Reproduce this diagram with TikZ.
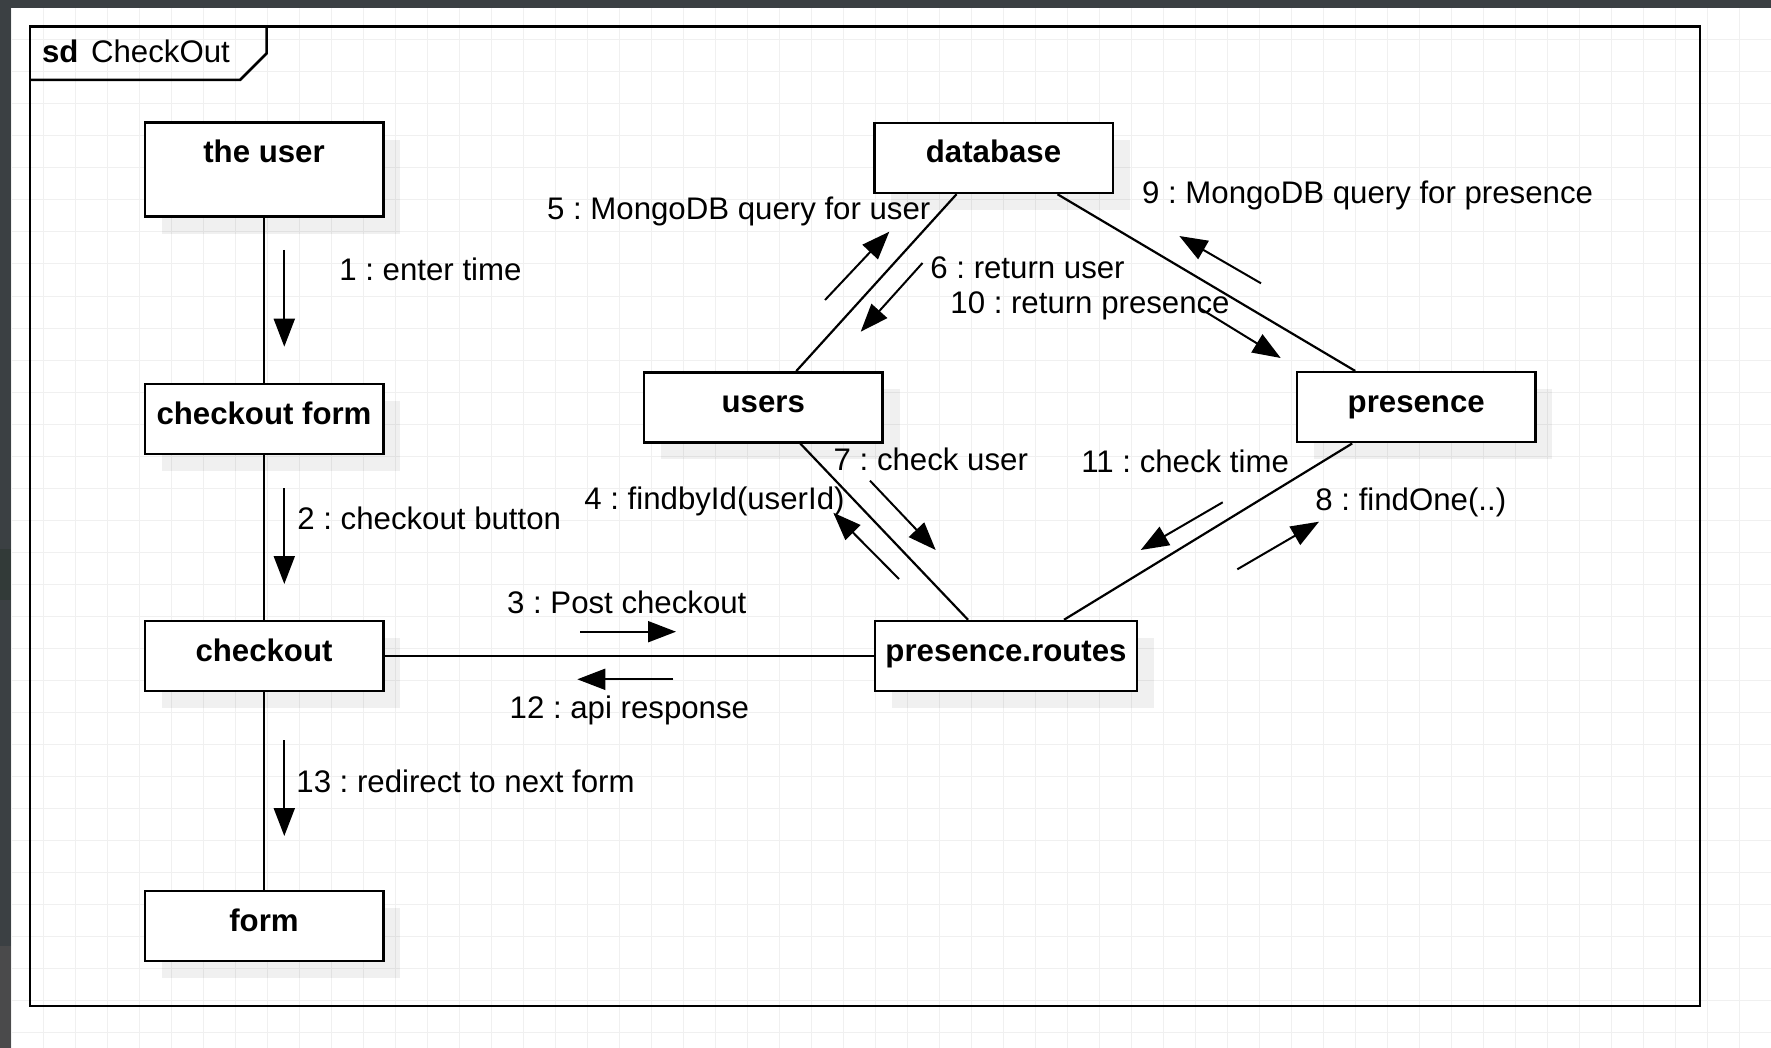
\documentclass[tikz,border=0pt]{standalone}
\usepackage{fontspec}
\setmainfont{Liberation Sans}
\usetikzlibrary{arrows.meta,calc,shadows}
\definecolor{topbar}{RGB}{59,64,67}
\definecolor{barmid}{RGB}{50,58,56}
\definecolor{barlow}{RGB}{74,74,75}
\definecolor{gridc}{RGB}{240,240,240}
\frenchspacing
\begin{document}
\begin{tikzpicture}[x=0.5pt,y=-0.5pt,
  obj/.style={draw=black, line width=1.25pt, fill=white, minimum width=119.25pt,
    inner xsep=0pt, inner ysep=0pt, text height=20pt, text depth=15pt,
    font=\fontsize{15.6}{18}\selectfont\bfseries,
    general shadow={fill=black, fill opacity=0.06, shadow xshift=8.5pt, shadow yshift=-8.5pt}},
  conn/.style={draw=black, line width=1.1pt},
  msg/.style={draw=black, line width=1pt, -{Triangle[length=14pt,width=10.5pt]}},
  lbl/.style={inner sep=0pt, font=\fontsize{15.6}{18}\selectfont},
  gridline/.style={draw=gridc, line width=0.5pt}]

\useasboundingbox (0,0) rectangle (1771,1048);
\fill[white] (0,0) rectangle (1771,1048);
\foreach \i in {0,...,55} \draw[gridline] ({11.3+32*\i},8) -- ({11.3+32*\i},1048);
\foreach \j in {0,...,32} \draw[gridline] (11.3,{8+32*\j}) -- (1771,{8+32*\j});
\fill[topbar] (0,0) rectangle (1771,8);
\fill[topbar] (0,0) rectangle (11.3,1048);
\fill[barmid] (0,549) rectangle (11.3,600);
\fill[barlow] (0,946) rectangle (11.3,1048);

% frame
\draw[line width=1.25pt] (30,26.7) rectangle (1700,1006);
\draw[line width=1.25pt] (30,80) -- (240,80) -- (266.7,53.3) -- (266.7,26.7);
\node[lbl, anchor=base west] (title) at (41.7,62.7) {\textbf{sd}\hspace{6.3pt}CheckOut};

% objects
\node[obj, text depth=27pt] (user) at (264,169.7) {the user};
\node[obj] (cform) at (264,419) {checkout form};
\node[obj] (checkout) at (264,656) {checkout};
\node[obj] (form) at (264,926) {form};
\node[obj] (database) at (993.5,158) {database};
\node[obj] (users) at (763.3,407.3) {users};
\node[obj] (presence) at (1416.2,407.2) {presence};
\node[obj, minimum width=131pt] (routes) at (1006,656) {presence.routes};

% links
\draw[conn] (user.south) -- (cform.north);
\draw[conn] (cform.south) -- (checkout.north);
\draw[conn] (checkout.south) -- (form.north);
\draw[conn] (checkout.east) -- (routes.west);
\draw[conn] ($(users.north)+(33,0)$) -- ($(database.south)+(-37,0)$);
\draw[conn] ($(database.south)+(64,0)$) -- ($(presence.north)+(-61,0)$);
\draw[conn] ($(users.south)+(37,0)$) -- ($(routes.north)+(-38,0)$);
\draw[conn] ($(presence.south)+(-64,0)$) -- ($(routes.north)+(58,0)$);

% message arrows
\coordinate (m1a) at (284.3,250);   \coordinate (m1b) at (284.3,346.7);
\coordinate (m2a) at (284.3,488);   \coordinate (m2b) at (284.3,584);
\coordinate (m13a) at (284.3,740);  \coordinate (m13b) at (284.3,836);
\coordinate (m3a) at (580,631.7);   \coordinate (m3b) at (676,631.7);
\coordinate (m12a) at (673.3,679.3);\coordinate (m12b) at (577.3,679.3);
\coordinate (m4a) at (899,579);     \coordinate (m4b) at (833.3,512.7);
\coordinate (m5a) at (825,300);     \coordinate (m5b) at (889.3,231.7);
\coordinate (m6a) at (922.5,263);   \coordinate (m6b) at (860.7,331.7);
\coordinate (m7a) at (870,480.7);   \coordinate (m7b) at (935.7,550);
\coordinate (m8a) at (1237.3,569.3);\coordinate (m8b) at (1319,521.7);
\coordinate (m9a) at (1261,283.3);  \coordinate (m9b) at (1179.3,236);
\coordinate (m10a) at (1201,309);   \coordinate (m10b) at (1280.7,358);
\coordinate (m11a) at (1222.7,502.3);\coordinate (m11b) at (1140.7,550);
\foreach \m in {1,2,3,4,5,6,7,8,9,10,11,12,13} \draw[msg] (m\m a) -- (m\m b);

% labels
\node[lbl, anchor=base west] (l1) at (339,280.7) {1 : enter time};
\node[lbl, anchor=base west] (l2) at (297,529.4) {2 : checkout button};
\node[lbl, anchor=base west] (l3) at (506.7,613.3) {3 : Post checkout};
\node[lbl, anchor=base west] (l4) at (584,509) {4 : findbyId(userId)};
\node[lbl, anchor=base west] (l5) at (546.7,219.3) {5 : MongoDB query for user};
\node[lbl, anchor=base west] (l6) at (930,278.3) {6 : return user};
\node[lbl, anchor=base west] (l7) at (833.3,470.7) {7 : check user};
\node[lbl, anchor=base west] (l8) at (1315,510.7) {8 : findOne(..)};
\node[lbl, anchor=base west] (l9) at (1141.7,203.3) {9 : MongoDB query for presence};
\node[lbl, anchor=base west] (l10) at (950,314) {10 : return presence};
\node[lbl, anchor=base east] (l11) at (1289.3,472.7) {11 : check time};
\node[lbl, anchor=base west] (l12) at (509.3,718.3) {12 : api response};
\node[lbl, anchor=base west] (l13) at (296,792.3) {13 : redirect to next form};
\end{tikzpicture}
\end{document}
